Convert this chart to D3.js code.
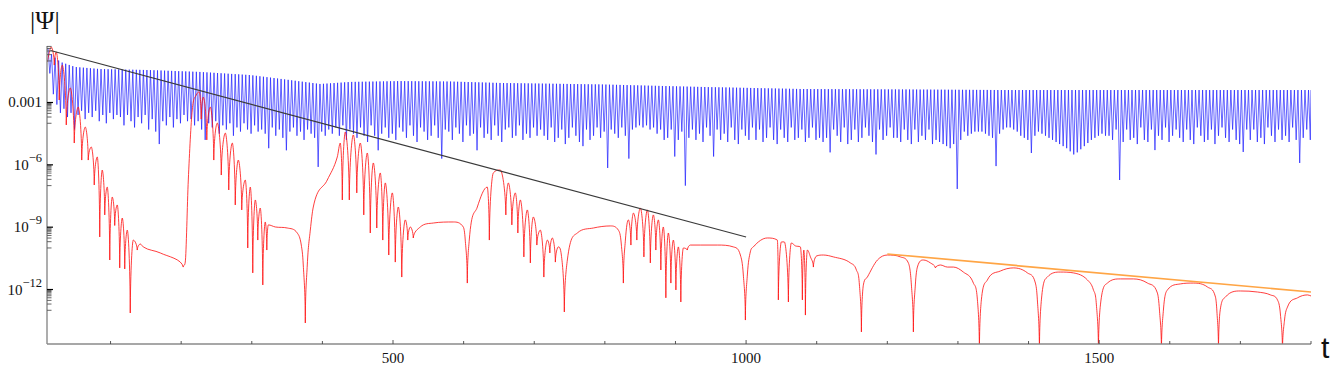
<!DOCTYPE html>
<html><head><meta charset="utf-8">
<script src="https://cdn.jsdelivr.net/npm/d3@7"></script>
<style>body{margin:0;background:#fff}svg{display:block}</style>
</head><body>
<svg id="c" width="1334" height="370"></svg>
<script>
// ---------- data ----------
const xDomain = [10, 1800];
const yDomainExp = [-14.622, -0.281];          // log10 of the y range shown
const xMinorTicks = [100,200,300,400,500,600,700,800,900,1000,1100,1200,1300,1400,1500,1600,1700,1800];
const xLabelVals = [500, 1000, 1500];
const yMajorExps = [0, -3, -6, -9, -12];
const yLabelExps = [-3, -6, -9, -12];
const yLabelText = ["0.001", "10^\u22126", "10^\u22129", "10^\u221212"];

// blue: upper envelope (t, log10|Psi|) and the depth of each successive dip
const blueTopT = [10, 12, 17, 29, 50, 85, 156, 227, 298, 354, 397, 440, 510, 581, 652, 794, 935, 1077, 1218, 1360, 1800];
const blueTopL = [-0.47, -0.38, -0.71, -1.05, -1.29, -1.39, -1.44, -1.53, -1.68, -1.92, -2.11, -2.01, -1.97, -1.99, -2.06, -2.13, -2.25, -2.35, -2.37, -2.40, -2.40];
const blueDipStart = 14, blueDipStep = 5;
const blueDipL = [
 -1.6,-2.6,-3.1,-3.5,-3.3,-3.7,-3.5,-4.3,-3.6,-3.4,-3.8,-3.5,-3.7,-3.4,-3.9,-3.6,-4.0,-3.5,-3.8,-3.6,
 -3.7,-4.1,-3.6,-3.9,-4.2,-3.7,-4.0,-3.6,-4.3,-3.8,-4.4,-5.0,-3.9,-4.1,-3.7,-4.2,-3.8,-4.0,-3.6,-3.9,
 -3.8,-4.1,-3.9,-4.3,-4.8,-4.0,-4.2,-3.9,-4.5,-4.1,-4.3,-4.0,-4.6,-4.2,-4.4,-4.0,-4.3,-4.5,-4.1,-4.4,
 -4.3,-4.5,-5.2,-4.2,-4.6,-4.3,-4.7,-5.3,-4.4,-4.2,-4.6,-4.4,-4.8,-4.3,-4.5,-4.7,-6.1,-4.4,-4.6,-4.3,
 -4.5,-4.2,-4.6,-4.1,-4.8,-4.3,-4.5,-4.7,-4.2,-4.6,-4.9,-4.1,-4.6,-5.3,-4.5,-4.2,-4.7,-4.5,-4.8,-4.2,
 -4.4,-4.7,-4.1,-4.6,-4.9,-4.2,-4.4,-4.8,-4.6,-4.1,-4.7,-5.7,-4.3,-4.4,-4.8,-4.2,-4.5,-4.9,-4.1,-4.6,
 -4.5,-5.3,-4.2,-4.7,-4.5,-4.8,-4.1,-4.6,-4.9,-4.3,-4.2,-4.7,-4.6,-4.1,-4.8,-4.5,-4.7,-4.2,-4.6,-4.3,
 -4.6,-4.8,-4.2,-4.9,-4.7,-4.3,-5.0,-4.7,-4.2,-4.6,-4.9,-5.1,-4.3,-4.8,-4.6,-4.2,-4.7,-4.4,-6.15,-4.3,
 -4.5,-4.7,-4.2,-4.6,-5.7,-4.3,-4.2,-4.1,-4.2,-4.1,-4.3,-4.2,-4.5,-4.3,-4.8,-4.7,-4.3,-5.6,-4.8,-4.4,
 -7.0,-4.7,-4.3,-4.8,-4.5,-4.9,-4.2,-4.6,-5.6,-4.3,-4.8,-4.5,-4.9,-4.2,-4.8,-5.0,-4.3,-4.6,-4.8,-4.2,
 -4.8,-4.3,-4.9,-4.7,-4.2,-4.8,-5.0,-4.3,-4.7,-4.9,-4.2,-4.8,-4.7,-4.3,-4.9,-4.7,-4.2,-4.8,-4.7,-4.9,
 -4.7,-5.4,-4.3,-4.6,-4.9,-4.2,-5.0,-4.8,-4.3,-4.9,-4.7,-4.2,-4.6,-4.9,-5.5,-4.3,-4.8,-4.6,-4.2,-4.7,
 -4.7,-4.9,-4.3,-4.8,-5.0,-4.3,-4.9,-4.6,-4.8,-4.3,-5.0,-4.8,-4.9,-5.0,-5.1,-5.2,-5.0,-7.16,-4.8,-4.4,
 -4.6,-4.5,-4.4,-4.4,-4.4,-4.5,-4.6,-4.7,-6.06,-4.5,-4.3,-4.2,-4.2,-4.3,-4.4,-4.6,-4.7,-4.8,-5.43,-4.6,
 -4.4,-4.5,-4.6,-4.7,-4.8,-4.9,-5.0,-5.1,-5.2,-5.35,-5.5,-5.4,-5.25,-5.1,-4.95,-4.8,-4.7,-4.6,-4.5,-4.6,
 -4.6,-4.8,-4.3,-6.73,-4.9,-4.3,-4.8,-4.7,-5.0,-4.2,-4.8,-4.9,-4.3,-5.29,-4.6,-4.8,-4.2,-4.9,-4.6,-4.3,
 -4.7,-4.9,-4.3,-4.8,-5.0,-4.2,-4.6,-4.9,-4.8,-4.3,-5.0,-4.6,-4.2,-4.7,-4.9,-4.3,-4.8,-5.0,-5.38,-4.3,
 -4.8,-4.3,-4.9,-4.7,-5.0,-4.2,-4.6,-4.9,-4.3,-4.8,-4.6,-4.9,-4.2,-4.8,-5.91,-4.7,-4.3,-4.8
];

// red: (t, log10|Psi|)
const redT = [
 10.3,16.0,20.3,23.1,27.3,31.6,37.3,42.9,48.6,54.2,59.2,64.2,68.4,72.7,76.9,81.2,84.7,88.2,91.8,95.3,
 98.9,102.4,105.9,109.5,113.0,116.6,120.1,123.7,127.9,132.2,137.8,142.1,146.3,170.4,203.0,205.8,210.1,215.7,221.4,225.6,
 228.4,231.3,236.3,241.2,246.2,251.1,256.8,262.5,267.4,272.4,276.6,280.9,285.8,290.8,294.3,297.9,301.4,305.0,308.5,312.0,
 315.6,319.1,321.3,323.4,333.3,350.3,364.4,370.1,372.9,375.8,378.6,382.9,387.1,406.9,421.1,425.3,428.2,432.4,
 438.1,443.8,448.7,453.7,458.6,463.6,467.8,472.1,477.0,482.0,485.5,489.1,494.0,499.0,503.2,507.5,512.4,517.4,520.9,524.5,
 528.7,538.6,557.1,585.4,599.5,602.3,605.2,608.0,619.4,633.5,636.4,642.0,
 651.9,659.8,663.3,668.3,673.2,676.8,680.3,685.3,690.2,694.5,698.7,703.7,708.6,713.6,718.6,722.1,725.6,729.9,734.1,738.4,
 742.6,746.9,761.0,783.7,807.8,819.1,823.4,826.2,829.1,
 833.3,836.9,840.4,845.3,850.3,855.3,860.2,864.4,868.7,872.2,875.8,879.3,882.8,886.4,889.9,893.5,897.0,900.6,904.1,907.6,
 911.2,916.8,921.1,935.2,959.3,982.0,991.9,996.1,999.0,1001.8,1006.0,1010.3,1030.1,1044.3,1045.7,1050.0,1054.2,1059.9,1064.1,1069.8,
 1076.9,1079.7,1081.8,1084.0,1086.8,1091.1,1095.3,1099.6,1109.5,1123.6,1147.7,1156.2,1160.5,1163.3,1166.1,1171.8,1186.0,1200.1,1218.5,1229.8,
 1234.1,1236.9,1239.7,1242.6,1251.1,1261.0,1268.1,1275.2,1285.1,1293.6,1307.7,1321.9,1327.6,1330.4,1333.2,1341.7,1360.1,1378.5,1398.4,1409.7,
 1412.5,1415.4,1418.2,1426.7,1445.1,1463.5,1483.4,1491.9,1496.1,1499.0,1501.8,1511.7,1530.1,1548.5,1568.4,1582.5,1585.4,1588.2,1591.0,1596.7,
 1615.1,1633.5,1653.4,1664.7,1666.8,1669.0,1671.1,1678.9,1700.1,1724.2,1742.6,1752.5,1756.8,1759.6,1762.5,1766.7,1780.9,1795.0,1800
];
const redL = [
 -1.05,-0.33,-1.20,-0.57,-2.88,-1.20,-4.08,-2.30,-4.95,-3.22,-5.77,-4.18,-5.77,-5.14,-6.97,-5.62,-9.47,-6.25,-8.41,-7.07,
 -10.58,-7.55,-8.92,-7.93,-10.96,-8.56,-11.01,-9.14,-13.13,-9.62,-10.10,-9.81,-9.95,-10.24,-10.92,-10.68,-6.73,-3.36,-2.64,-2.49,
 -3.8,-2.74,-4.80,-3.22,-5.77,-3.99,-6.49,-4.47,-7.21,-4.95,-7.93,-5.77,-8.17,-6.73,-10.00,-7.07,-11.20,-7.69,-9.62,-8.08,
 -11.78,-8.75,-10.10,-8.89,-8.99,-9.04,-9.28,-9.86,-10.82,-13.61,-10.82,-9.14,-8.03,-6.73,-5.62,-4.95,-7.69,-4.42,
 -7.69,-4.56,-7.35,-4.95,-8.41,-5.43,-9.28,-5.91,-9.04,-6.39,-9.62,-6.87,-10.34,-7.35,-10.68,-8.03,-11.40,-8.65,-9.62,-8.99,
 -9.52,-8.99,-8.80,-8.75,-8.99,-9.62,-11.69,-9.62,-8.03,-7.07,-9.62,-6.39,
 -6.25,-8.41,-6.87,-8.89,-7.35,-9.28,-7.69,-10.43,-8.17,-10.72,-8.51,-9.86,-9.14,-11.40,-9.62,-10.24,-9.52,-10.68,-9.95,-10.34,
 -13.08,-10.58,-9.28,-9.04,-8.94,-9.14,-9.86,-11.69,-9.62,
 -8.65,-9.86,-8.32,-9.62,-8.08,-10.43,-8.17,-10.72,-8.41,-10.10,-8.65,-11.06,-8.99,-12.40,-9.28,-11.69,-9.62,-12.02,-9.95,-12.60,
 -10.00,-10.10,-9.86,-9.86,-9.86,-9.95,-10.34,-11.30,-13.47,-11.30,-10.19,-9.95,-9.52,-9.62,-12.50,-9.71,-9.71,-12.60,-9.76,-9.90,
 -9.95,-12.50,-10.10,-13.23,-10.10,-10.43,-10.92,-10.39,-10.34,-10.43,-10.72,-11.06,-11.78,-14.04,-11.78,-11.40,-10.58,-10.34,-10.43,-10.72,
 -11.78,-14.04,-11.78,-10.92,-10.58,-10.72,-10.96,-10.82,-10.92,-10.92,-11.16,-11.69,-12.50,-15,-12.50,-11.54,-11.11,-10.96,-11.20,-11.69,
 -12.50,-15,-12.50,-11.40,-11.16,-11.20,-11.54,-12.02,-12.74,-15,-12.74,-11.69,-11.49,-11.49,-11.69,-12.17,-12.99,-15,-12.99,-12.02,
 -11.73,-11.69,-11.88,-12.36,-13.08,-15,-13.08,-12.36,-12.07,-12.12,-12.26,-12.50,-13.23,-15,-13.47,-12.84,-12.40,-12.26,-12.31
];

// straight reference lines
const blackT = [15, 1000], blackL = [-0.50, -9.47];
const orangeT = [1200, 1800], orangeL = [-10.29, -12.12];

// ---------- drawing ----------
const svg = d3.select("#c");
const L = 47, R = 1311, T = 46, B = 344;
const x = d3.scaleLinear().domain(xDomain).range([L, R]);
const y = d3.scaleLog().domain([Math.pow(10, yDomainExp[0]), Math.pow(10, yDomainExp[1])]).range([B, T]);
const P = v => Math.pow(10, v);

svg.append("defs").append("clipPath").attr("id", "clip")
  .append("rect").attr("x", L).attr("y", T).attr("width", R - L).attr("height", B - T);
const g = svg.append("g").attr("clip-path", "url(#clip)");

const topScale = d3.scaleLinear().domain(blueTopT).range(blueTopL);
const bluePts = [[xDomain[0], topScale(xDomain[0])]];
blueDipL.forEach((v, i) => {
  const td = blueDipStart + i * blueDipStep;
  bluePts.push([td - blueDipStep / 2, topScale(td - blueDipStep / 2)]);
  bluePts.push([td, v]);
});
bluePts.push([xDomain[1], topScale(xDomain[1])]);

const line = d3.line().x(d => x(d[0])).y(d => y(P(d[1])));
g.append("path").attr("d", line(bluePts))
  .attr("fill", "none").attr("stroke", "#1a1aff").attr("stroke-width", 0.75).attr("stroke-opacity", 0.9);

// curve with rounded maxima and cusp-like minima (log of an oscillating modulus)
function cuspPath(pts) {
  const n = pts.length, type = [], m = [];
  for (let i = 0; i < n; i++) {
    const p = pts[i], a = pts[i - 1], b = pts[i + 1];
    if (!a || !b) { const q = a || p, r = b || p; type.push("mono"); m.push((r[1] - q[1]) / ((r[0] - q[0]) || 1)); continue; }
    const s0 = (p[1] - a[1]) / (p[0] - a[0]), s1 = (b[1] - p[1]) / (b[0] - p[0]);
    if (p[1] > a[1] && p[1] > b[1]) { type.push("dip"); m.push(0); }
    else if (p[1] < a[1] && p[1] < b[1]) { type.push("peak"); m.push(0); }
    else {
      type.push("mono");
      let mm = (s0 + s1) / 2; const lim = 3 * Math.min(Math.abs(s0), Math.abs(s1));
      if (Math.abs(mm) > lim) mm = Math.sign(mm) * lim; m.push(mm);
    }
  }
  let d = "M" + pts[0][0] + "," + pts[0][1];
  for (let i = 0; i < n - 1; i++) {
    const [x0, y0] = pts[i], [x1, y1] = pts[i + 1], h = x1 - x0;
    const c1 = type[i] === "dip" ? [x0 + 0.08 * h, y0 + 0.6 * (y1 - y0)] : [x0 + h / 3, y0 + m[i] * h / 3];
    const c2 = type[i + 1] === "dip" ? [x1 - 0.08 * h, y1 + 0.6 * (y0 - y1)] : [x1 - h / 3, y1 - m[i + 1] * h / 3];
    d += "C" + c1[0] + "," + c1[1] + "," + c2[0] + "," + c2[1] + "," + x1 + "," + y1;
  }
  return d;
}
const redPix = redT.map((t, i) => [x(t), y(P(redL[i]))]);
g.append("path").attr("d", cuspPath(redPix))
  .attr("fill", "none").attr("stroke", "#ff1010").attr("stroke-width", 0.9).attr("stroke-opacity", 0.9);

g.append("path").attr("d", line(blackT.map((t, i) => [t, blackL[i]])))
  .attr("fill", "none").attr("stroke", "#3a3a3a").attr("stroke-width", 1.1);
g.append("path").attr("d", line(orangeT.map((t, i) => [t, orangeL[i]])))
  .attr("fill", "none").attr("stroke", "#ffa545").attr("stroke-width", 1.7);

// axes
const ax = svg.append("g");
ax.append("line").attr("x1", L).attr("x2", L).attr("y1", T).attr("y2", B)
  .attr("stroke", "#8a8a8a").attr("stroke-width", 1.4);
ax.append("line").attr("x1", L).attr("x2", R).attr("y1", B).attr("y2", B)
  .attr("stroke", "#8a8a8a").attr("stroke-width", 1.4);

// y ticks
yMajorExps.forEach(mx => {
  for (let k = 1; k <= 9; k++) {
    const yy = y(k * Math.pow(10, mx - 1));
    if (yy < T || yy > B) continue;
    ax.append("line").attr("x1", L).attr("x2", L + 4.5).attr("y1", yy).attr("y2", yy)
      .attr("stroke", "#555").attr("stroke-width", 0.9);
  }
  const yy = y(Math.pow(10, mx));
  if (yy >= T && yy <= B)
    ax.append("line").attr("x1", L).attr("x2", L + 6).attr("y1", yy).attr("y2", yy)
      .attr("stroke", "#000").attr("stroke-width", 1.2);
});

// x ticks
xMinorTicks.forEach(v => {
  const major = xLabelVals.includes(v);
  ax.append("line").attr("x1", x(v)).attr("x2", x(v)).attr("y1", B).attr("y2", B - (major ? 4 : 3))
    .attr("stroke", "#444").attr("stroke-width", 0.9);
});

// labels
const serif = "'Liberation Serif','DejaVu Serif',serif";
xLabelVals.forEach(v => {
  svg.append("text").attr("x", x(v)).attr("y", 363).attr("text-anchor", "middle")
    .attr("font-family", serif).attr("font-size", 15).attr("fill", "#111").text(v);
});
yLabelExps.forEach((e, i) => {
  const yy = y(Math.pow(10, e));
  const parts = yLabelText[i].split("^");
  const t = svg.append("text").attr("x", 42).attr("y", yy + 5).attr("text-anchor", "end")
    .attr("font-family", serif).attr("font-size", 15).attr("fill", "#111");
  t.append("tspan").text(parts[0]);
  if (parts[1]) t.append("tspan").attr("dy", -8).attr("font-size", 12.5).text(parts[1]);
});
svg.append("text").attr("x", 30).attr("y", 29).attr("font-family", serif)
  .attr("font-size", 26).attr("fill", "#111").text("|\u03A8|");
svg.append("text").attr("x", 1321).attr("y", 358).attr("font-family", "'Liberation Sans',Arial,sans-serif")
  .attr("font-size", 30).attr("fill", "#111").text("t");
</script>
</body></html>
